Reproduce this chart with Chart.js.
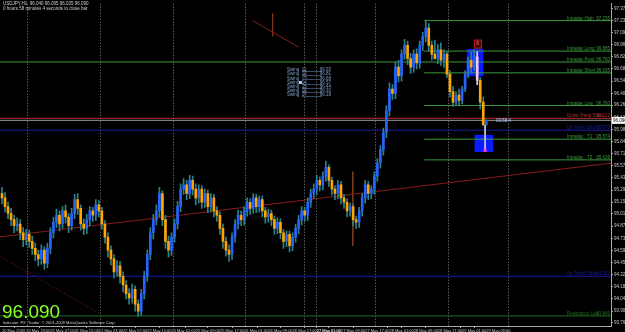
<!DOCTYPE html>
<html>
<head>
<meta charset="utf-8">
<script src="https://cdn.jsdelivr.net/npm/chart.js@4.4.1/dist/chart.umd.min.js"></script>
<style>
  html, body { margin: 0; padding: 0; background: #000; overflow: hidden; }
  canvas { display: block; }
</style>
</head>
<body>
<canvas id="usdjpyChart" width="625" height="332"></canvas>
<script>
// USDJPY H1, one entry per bar (bar 0 = 20 May 2009 15:00)
const opens = [
  95.25,95.20,95.10,95.02,94.95,94.88,94.90,94.80, 94.72,94.78,94.70,94.62,94.55,94.50,94.60,94.45,
  94.62,94.80,94.92,95.00,94.90,95.05,94.98,94.88, 95.02,95.18,95.08,94.90,94.85,94.95,95.05,95.00,
  95.12,95.05,94.90,94.75,94.60,94.50,94.35,94.42, 94.30,94.20,94.10,94.05,94.15,93.98,93.90,94.10,
  94.30,94.55,94.80,94.95,95.05,95.25,94.95,94.70, 94.60,94.75,94.90,95.10,95.30,95.35,95.25,95.40,
  95.30,95.20,95.30,95.15,95.25,95.10,95.20,95.05, 95.00,94.85,94.70,94.60,94.55,94.75,94.90,95.00,
  94.95,95.05,95.15,95.08,95.20,95.10,95.18,95.05, 94.98,95.02,94.95,94.85,94.92,94.80,94.70,94.78,
  94.65,94.75,94.85,94.95,95.05,95.00,95.15,95.25, 95.30,95.40,95.35,95.45,95.55,95.40,95.30,95.25,
  95.35,95.20,95.15,95.05,95.10,94.95,94.92,95.05, 95.20,95.35,95.25,95.30,95.45,95.60,95.75,95.95,
  96.20,96.45,96.40,96.70,96.60,96.85,96.95,96.80, 96.70,96.85,96.75,96.95,97.05,97.15,96.95,96.85,
  96.80,96.90,96.78,96.85,96.62,96.42,96.30,96.38, 96.32,96.45,96.62,96.78,96.70,96.82,96.55,96.30,
  96.040
];
const highs = [
  95.32,95.26,95.15,95.08,95.00,94.97,94.95,94.86, 94.84,94.83,94.76,94.68,94.60,94.66,94.64,94.68,
  94.86,94.98,95.07,95.05,95.10,95.12,95.02,95.08, 95.24,95.25,95.12,94.96,95.01,95.10,95.09,95.18,
  95.17,95.09,94.94,94.80,94.65,94.55,94.48,94.47, 94.35,94.25,94.16,94.21,94.19,94.03,94.15,94.36,
  94.60,94.86,95.01,95.12,95.32,95.28,95.00,94.76, 94.80,94.96,95.16,95.36,95.42,95.40,95.46,95.45,
  95.36,95.35,95.34,95.30,95.29,95.25,95.24,95.10, 95.04,94.90,94.75,94.66,94.80,94.95,95.06,95.05,
  95.10,95.20,95.19,95.25,95.24,95.22,95.22,95.09, 95.07,95.06,94.99,94.97,94.96,94.84,94.82,94.82,
  94.80,94.90,95.00,95.10,95.09,95.20,95.30,95.36, 95.46,95.44,95.50,95.62,95.58,95.44,95.34,95.40,
  95.39,95.24,95.19,95.14,95.13,94.99,95.09,95.25, 95.40,95.39,95.34,95.50,95.65,95.80,96.00,96.26,
  96.52,96.50,96.76,96.78,96.90,97.02,97.00,96.86, 96.90,96.91,97.00,97.10,97.24,97.20,97.00,97.01,
  96.96,96.98,96.90,96.88,96.66,96.48,96.42,96.45, 96.48,96.66,96.82,96.88,96.90,96.88,96.58,96.36,
  96.095
];
const lows = [
  95.13,95.04,94.96,94.88,94.80,94.82,94.72,94.64, 94.66,94.63,94.55,94.48,94.42,94.44,94.38,94.40,
  94.56,94.74,94.86,94.82,94.85,94.91,94.80,94.83, 94.96,95.01,94.83,94.78,94.79,94.88,94.93,94.94,
  94.98,94.84,94.68,94.52,94.43,94.28,94.30,94.22, 94.12,94.04,93.98,93.99,93.90,93.84,93.85,94.04,
  94.24,94.49,94.73,94.89,94.98,94.88,94.62,94.52, 94.54,94.69,94.84,95.04,95.24,95.18,95.19,95.23,
  95.12,95.14,95.08,95.09,95.03,95.04,94.98,94.93, 94.78,94.62,94.53,94.47,94.49,94.69,94.84,94.88,
  94.89,94.99,95.01,95.02,95.03,95.04,94.98,94.91, 94.92,94.88,94.78,94.79,94.73,94.62,94.64,94.58,
  94.59,94.69,94.79,94.89,94.93,94.94,95.09,95.19, 95.24,95.28,95.29,95.39,95.33,95.23,95.18,95.19,
  95.13,95.08,94.98,94.99,94.88,94.85,94.86,94.99, 95.14,95.18,95.19,95.24,95.39,95.54,95.69,95.89,
  96.14,96.33,96.34,96.53,96.54,96.79,96.73,96.63, 96.64,96.68,96.69,96.89,96.99,96.88,96.78,96.79,
  96.74,96.72,96.70,96.58,96.36,96.25,96.26,96.27, 96.28,96.42,96.58,96.64,96.66,96.50,96.22,96.03,
  96.035
];
const closes = [
  95.20,95.10,95.02,94.95,94.88,94.90,94.80,94.72, 94.78,94.70,94.62,94.55,94.50,94.60,94.45,94.62,
  94.80,94.92,95.00,94.90,95.05,94.98,94.88,95.02, 95.18,95.08,94.90,94.85,94.95,95.05,95.00,95.12,
  95.05,94.90,94.75,94.60,94.50,94.35,94.42,94.30, 94.20,94.10,94.05,94.15,93.98,93.90,94.10,94.30,
  94.55,94.80,94.95,95.05,95.25,94.95,94.70,94.60, 94.75,94.90,95.10,95.30,95.35,95.25,95.40,95.30,
  95.20,95.30,95.15,95.25,95.10,95.20,95.05,95.00, 94.85,94.70,94.60,94.55,94.75,94.90,95.00,94.95,
  95.05,95.15,95.08,95.20,95.10,95.18,95.05,94.98, 95.02,94.95,94.85,94.92,94.80,94.70,94.78,94.65,
  94.75,94.85,94.95,95.05,95.00,95.15,95.25,95.30, 95.40,95.35,95.45,95.55,95.40,95.30,95.25,95.35,
  95.20,95.15,95.05,95.10,94.95,94.92,95.05,95.20, 95.35,95.25,95.30,95.45,95.60,95.75,95.95,96.20,
  96.45,96.40,96.70,96.60,96.85,96.95,96.80,96.70, 96.85,96.75,96.95,97.05,97.15,96.95,96.85,96.80,
  96.90,96.78,96.85,96.62,96.42,96.30,96.38,96.32, 96.45,96.62,96.78,96.70,96.82,96.55,96.30,96.04,
  96.090
];
const markedBar = 157;   // bar highlighted by the signal indicator

// time axis: one label every 8 bars
const xLabels = [
  "20 May 2009", "20 May 23:00", "21 May 07:00", "21 May 15:00", "21 May 23:00", "22 May 07:00",
  "22 May 15:00", "25 May 01:00", "25 May 09:00", "25 May 17:00", "26 May 01:00", "26 May 09:00",
  "26 May 17:00", "27 May 01:00", "27 May 09:00", "27 May 17:00", "28 May 01:00", "28 May 09:00",
  "28 May 17:00", "29 May 01:00", "29 May 09:00"
];
const barsPerLabel = 8;
const daySeparators = [9, 33, 57, 81, 104, 127, 151, 175];

// price axis labels
const yTicks = [
  97.375, 97.235, 97.095, 96.960, 96.820, 96.680, 96.540, 96.400, 96.265, 96.125, 95.985, 95.845,
  95.710, 95.570, 95.430, 95.290, 95.150, 95.015, 94.875, 94.735, 94.595, 94.455, 94.320, 94.180,
  94.040, 93.900, 93.765
];

// level lines drawn by the indicator: name, price, first bar
const levelNames  = ["Intraday High", "Intraday Long", "Intraday Pivot", "Intraday Short", "Intraday Low",
                     "Down Trend Short", "Up Trend Short", "Intraday   T1", "Intraday   T2",
                     "Up Trend Short", "Resistance Low"];
const levelPrices = [97.235, 96.885, 96.760, 96.635, 96.260, 96.113, 95.977, 95.874, 95.636, 94.300, 93.845];
const levelStart  = [139.5, 139.5, -1, 139.5, 139.5, -1, -1, 139.5, 139.5, -1, -1];
const lastPrice = 96.090;

// swing table shown by the indicator
const tableNames  = ["Swing  11", "Swing  12", "Swing  13", "Swing  14", "Swing  15", "Swing  16", "Swing  17"];
const tableValues = ["96.93", "96.81", "96.68", "96.57", "96.44", "96.30", "96.18"];

// hand drawn objects (bar index, price)
const trendUp   = [[-1, 94.751], [202, 95.602]];
const trendDown = [[-1, 94.535], [32.5, 93.865]];
const shortLine = [[82.8, 97.236], [98.0, 96.930]];
const vLine1 = [[89.4, 97.316], [89.4, 97.055]];
const vLine2 = [[115.9, 95.500], [115.9, 94.649]];
const targetLine = [[159.6, 96.04], [159.6, 95.74]];
const boxTop = [156.3, 96.905, 96.600];
const boxBottom = [159.2, 95.920, 95.730];
const signalMark = [157.2, 96.965];

const BULL = "#2563ff";
const BEAR = "#ffa500";
const MARK = "#f0c8ec";
const WICK = "#2f8088";
const GREEN = "#3c9a3c";
const X_MIN = -0.66, X_MAX = 201.2;

const colorFor = {
  "Intraday High": GREEN, "Intraday Long": GREEN, "Intraday Pivot": GREEN, "Intraday Short": GREEN,
  "Intraday Low": GREEN, "Intraday   T1": GREEN, "Intraday   T2": GREEN,
  "Down Trend Short": "#b03030", "Up Trend Short": "#1a1aa8", "Resistance Low": "#1f6e1f"
};

function seg(points, color, dash, order) {
  return {
    type: "line", xAxisID: "x", yAxisID: "y",
    data: points.map(p => ({ x: p[0], y: p[1] })),
    borderColor: color, borderWidth: 1, borderDash: dash || [],
    pointRadius: 0, fill: false, order: order || 5
  };
}

const datasets = [
  {
    type: "bar", xAxisID: "x", yAxisID: "y", grouped: false, order: 2,
    data: lows.map((l, i) => ({ x: i, y: [l, highs[i]] })),
    backgroundColor: lows.map((l, i) => (i === markedBar ? MARK : WICK)),
    barThickness: 1
  },
  {
    type: "bar", xAxisID: "x", yAxisID: "y", grouped: false, order: 1,
    data: opens.map((o, i) => ({ x: i, y: [o, closes[i]] })),
    backgroundColor: opens.map((o, i) => (i === markedBar ? MARK : closes[i] >= o ? BULL : BEAR)),
    barThickness: 2, minBarLength: 1
  },
  {
    type: "bar", xAxisID: "x", yAxisID: "y", grouped: false, order: 6,
    data: [{ x: boxTop[0], y: [boxTop[1], boxTop[2]] }],
    backgroundColor: "#0a1cff", barThickness: 16
  },
  {
    type: "bar", xAxisID: "x", yAxisID: "y", grouped: false, order: 6,
    data: [{ x: boxBottom[0], y: [boxBottom[1], boxBottom[2]] }],
    backgroundColor: "#0a1cff", barThickness: 18
  },
  seg(trendUp, "#8a1c1c"),
  seg(trendDown, "#8a1c1c", [1, 2]),
  seg(shortLine, "#8a1c1c"),
  seg(vLine1, "#7a3a1a"),
  seg(vLine2, "#7a3a1a"),
  seg(targetLine, "#c8c8d8", [], 0),
  seg([[X_MIN, lastPrice], [X_MAX, lastPrice]], "#9a9a9a")
];
levelNames.forEach((n, i) => {
  datasets.push(seg([[levelStart[i] < 0 ? X_MIN : levelStart[i], levelPrices[i]], [X_MAX, levelPrices[i]]], colorFor[n]));
});

const labelTicks = xLabels.map((_, k) => k * barsPerLabel);
const allXTicks = labelTicks.concat(daySeparators).sort((a, b) => a - b);

const overlay = {
  id: "overlay",
  afterDatasetsDraw(chart) {
    const c = chart.ctx, x = chart.scales.x, y = chart.scales.y;
    c.save();
    c.textBaseline = "bottom";
    c.font = "4.5px 'Liberation Sans'";
    levelNames.forEach((n, i) => {
      const py = y.getPixelForValue(levelPrices[i]);
      c.fillStyle = colorFor[n];
      c.textAlign = "left";
      c.fillText(n, 567, py);
      c.textAlign = "right";
      c.fillText(levelPrices[i].toFixed(3), 610, py);
    });
    // swing table
    c.textBaseline = "middle";
    tableNames.forEach((n, i) => {
      const ty = 70 + i * 4.2;
      c.fillStyle = "#7f9fc8";
      c.textAlign = "left";
      c.fillText(n, 287, ty);
      c.textAlign = "right";
      c.fillText(tableValues[i], 331, ty);
      c.fillStyle = "#3a4a66";
      c.fillRect(302, Math.round(ty) + 1, 20, 1);
    });
    c.fillStyle = "#9ec8ff";
    c.fillRect(299, 81, 3, 3);
    // signal marker above the top box
    const mx = x.getPixelForValue(signalMark[0]), my = y.getPixelForValue(signalMark[1]);
    c.strokeStyle = "#c02020";
    c.fillStyle = "#400000";
    c.fillRect(mx - 3.5, my - 4, 7, 8);
    c.strokeRect(mx - 3.5, my - 4, 7, 8);
    c.fillStyle = "#ff6060";
    c.textAlign = "center";
    c.fillText("B", mx, my);
    // target marker inside the bottom box
    c.fillStyle = "#ff40c0";
    c.fillRect(x.getPixelForValue(targetLine[0][0]) - 1.5, y.getPixelForValue(95.745) - 1.5, 3, 3);
    // header
    c.fillStyle = "#d0d0d0";
    c.textAlign = "left";
    c.textBaseline = "top";
    c.font = "4.5px 'Liberation Sans'";
    c.fillText("USDJPY,H1  96.040 96.095 96.035 96.090", 3, 2);
    c.fillText("0 hours 58 minutes 4 seconds to close bar", 3, 7);
    // big price
    c.fillStyle = "#88ff22";
    c.font = "19px 'Liberation Sans'";
    c.textBaseline = "alphabetic";
    c.fillText(lastPrice.toFixed(3), 2, 318);
    c.fillStyle = "#d0d0d0";
    c.font = "4px 'Liberation Sans'";
    c.fillText("Indicator  FX  Trader  \u00a9 2001-2009 MetaQuotes Software Corp.", 3, 324);
    // bid marker on the price axis
    const by = y.getPixelForValue(lastPrice);
    c.fillStyle = "#ffffff";
    c.fillRect(612, by - 3.5, 13, 7);
    c.fillStyle = "#000";
    c.font = "4.5px 'Liberation Sans'";
    c.textBaseline = "middle";
    c.fillText(lastPrice.toFixed(3), 613, by);
    // countdown next to last bar
    c.fillStyle = "#b0c8ff";
    c.fillText("\u2190 00:58:4", x.getPixelForValue(closes.length - 1) + 4, by);
    c.restore();
  }
};

new Chart(document.getElementById("usdjpyChart"), {
  type: "bar",
  data: { datasets },
  options: {
    responsive: false,
    animation: false,
    devicePixelRatio: 1,
    layout: { padding: 0 },
    plugins: { legend: { display: false }, tooltip: { enabled: false } },
    scales: {
      x: {
        type: "linear", position: "bottom", min: X_MIN, max: X_MAX, offset: false,
        afterBuildTicks: s => { s.ticks = allXTicks.map(v => ({ value: v })); },
        afterFit: s => { s.height = 6; },
        ticks: {
          autoSkip: false, maxRotation: 0, minRotation: 0, align: "start", padding: 0,
          color: "#c8c8c8", font: { family: "Liberation Sans", size: 4 },
          callback: v => (v % barsPerLabel === 0 ? xLabels[v / barsPerLabel] : "")
        },
        grid: {
          display: true, drawOnChartArea: true, drawTicks: true, tickLength: 2,
          color: c => (c.tick && daySeparators.includes(c.tick.value) ? "#8a8a8a" : "rgba(0,0,0,0)"),
          tickColor: c => (c.tick && c.tick.value % barsPerLabel === 0 ? "#a8a8a8" : "rgba(0,0,0,0)")
        },
        border: { display: true, color: "#a8a8a8", dash: [1, 2] }
      },
      y: {
        type: "linear", position: "right", min: 93.729, max: 97.429,
        afterBuildTicks: s => { s.ticks = yTicks.map(v => ({ value: v })); },
        afterFit: s => { s.width = 14; },
        ticks: {
          autoSkip: false, padding: 1, color: "#c8c8c8",
          font: { family: "Liberation Sans", size: 4.5 },
          callback: v => v.toFixed(3)
        },
        grid: { display: true, drawOnChartArea: false, drawTicks: true, tickLength: 2, color: "#a8a8a8" },
        border: { display: true, color: "#a8a8a8" }
      }
    }
  },
  plugins: [overlay]
});
</script>
</body>
</html>
